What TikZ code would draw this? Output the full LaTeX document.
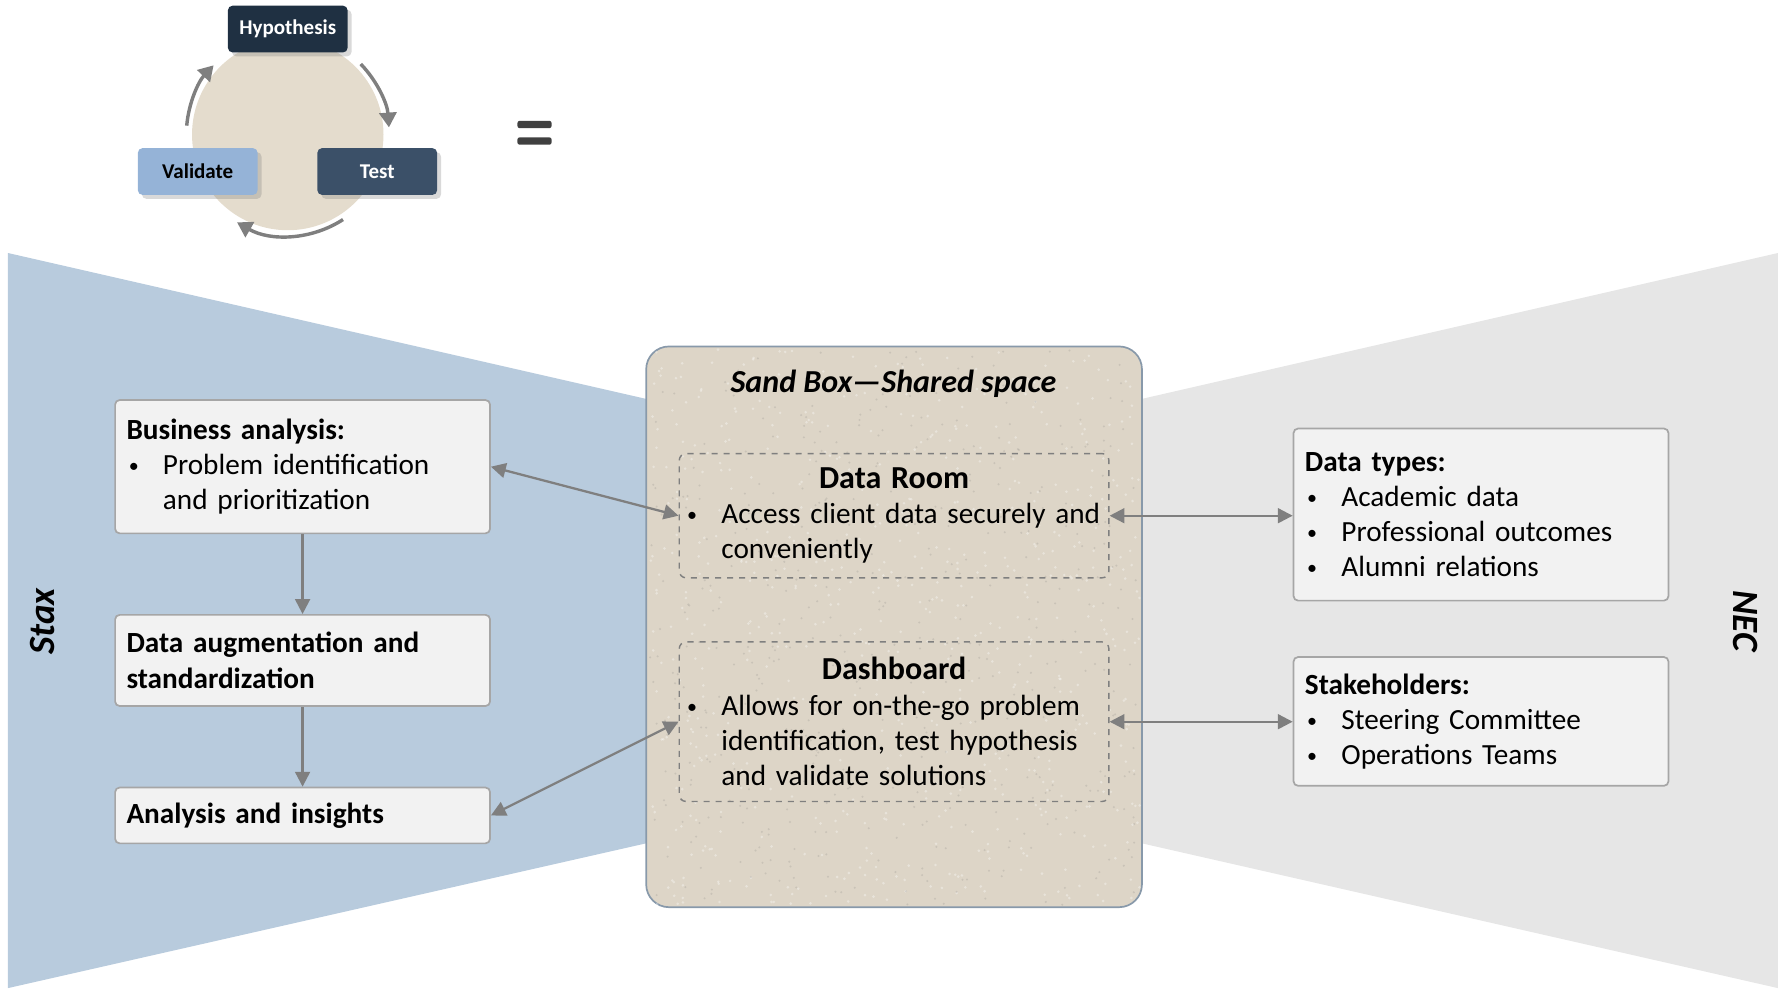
\documentclass[tikz,border=0pt]{standalone}
\usepackage{fontspec}
\setmainfont{Carlito}
\usepackage{tikz}
\usetikzlibrary{arrows.meta,positioning,shadows}
\definecolor{staxblue}{HTML}{B8CBDD}
\definecolor{necgray}{HTML}{E6E6E6}
\definecolor{sandfill}{HTML}{DDD5C7}
\definecolor{sandedge}{HTML}{8899AA}
\definecolor{boxfill}{HTML}{F2F2F2}
\definecolor{boxedge}{HTML}{A6A6A6}
\definecolor{linkgray}{HTML}{7F7F7F}
\definecolor{hypnavy}{HTML}{1F3042}
\definecolor{testblue}{HTML}{3B5068}
\definecolor{valblue}{HTML}{95B3D7}
\definecolor{cyclebeige}{HTML}{E4DCCD}
\definecolor{eqgray}{HTML}{404040}
\newcommand{\bitem}[1]{\par\noindent\hspace*{0.4mm}\makebox[6mm][l]{\raisebox{0.35mm}{\fontsize{10}{10}\selectfont\textbullet}}\parbox[t]{\dimexpr\hsize-6.4mm\relax}{\raggedright#1}}

\begin{document}
\begin{tikzpicture}[
  x=0.2mm, y=-0.2mm,
  infobox/.style={
    draw=boxedge,
    line width=0.3mm,
    rounded corners=0.8mm,
    fill=boxfill,
    text width=61.8mm,
    inner xsep=2mm,
    inner ysep=1mm,
    align=left,
    font=\fontsize{14.6}{17.6}\selectfont
  },
  roombox/.style={
    draw=linkgray,
    dashed,
    line width=0.25mm,
    rounded corners=1.2mm,
    text width=73.4mm,
    inner xsep=1mm,
    inner ysep=1mm,
    align=left,
    font=\fontsize{14.6}{17.6}\selectfont
  },
  sandbox/.style={
    draw=sandedge,
    line width=0.3mm,
    rounded corners=4mm,
    fill=sandfill
  },
  cycbox/.style={
    rounded corners=0.8mm,
    minimum width=21mm,
    minimum height=8.2mm,
    font=\fontsize{10.5}{12}\selectfont\bfseries,
    drop shadow={shadow xshift=0.7mm, shadow yshift=-0.7mm, opacity=0.3}
  },
  sidelabel/.style={font=\fontsize{18.5}{20}\selectfont\bfseries\itshape},
  link/.style={-{Triangle[length=2.6mm,width=2.6mm]},line width=0.4mm,draw=linkgray},
  dlink/.style={{Triangle[length=2.6mm,width=2.6mm]}-{Triangle[length=2.6mm,width=2.6mm]},line width=0.4mm,draw=linkgray},
  cycarrow/.style={-{Triangle[length=2.6mm,width=3mm]},line width=0.6mm,draw=linkgray}
]
\useasboundingbox (0,0) rectangle (1568,867);

\fill[staxblue] (7,222) -- (640,366.7) -- (640,723.4) -- (7,867) -- cycle;
\fill[necgray] (1560,222) -- (930,366.5) -- (930,723.6) -- (1560,867) -- cycle;

\node[circle, fill=cyclebeige, minimum size=33.6mm, inner sep=0pt] (cyc) at (252.5,118) {};
\node[cycbox, fill=hypnavy, text=white] (hyp) at (252.5,25.5) {Hypothesis};
\node[cycbox, fill=valblue, text=black] (val) at (173.5,150.5) {Validate};
\node[cycbox, fill=testblue, text=white] (test) at (331,150.5) {Test};
\draw[cycarrow] ([shift={(44:17.8mm)}]cyc.center) arc[start angle=44, end angle=4, radius=17.8mm];
\draw[cycarrow] ([shift={(-57:17.8mm)}]cyc.center) arc[start angle=-57, end angle=-120, radius=17.8mm];
\draw[cycarrow] ([shift={(175:17.8mm)}]cyc.center) arc[start angle=175, end angle=137, radius=17.8mm];

\fill[eqgray, rounded corners=0.4mm] (454,106) rectangle (484,112.5);
\fill[eqgray, rounded corners=0.4mm] (454,120.5) rectangle (484,127);

\node[sandbox, minimum width=87mm, minimum height=98.4mm] (sandbox) at (784.5,550) {};
\begin{scope}
  \clip[rounded corners=4mm] (sandbox.south west) rectangle (sandbox.north east);
  \pgfmathsetseed{42}
  \foreach \i in {1,...,700} {
    \pgfmathsetmacro{\px}{570+430*rnd}
    \pgfmathsetmacro{\py}{306+488*rnd}
    \fill[white, opacity=0.35] (\px,\py) circle (0.25mm);
  }
  \foreach \i in {1,...,500} {
    \pgfmathsetmacro{\px}{570+430*rnd}
    \pgfmathsetmacro{\py}{306+488*rnd}
    \fill[black!55, opacity=0.18] (\px,\py) circle (0.2mm);
  }
\end{scope}
\node[font=\fontsize{16}{19}\selectfont\bfseries\itshape] (sbtitle) at (784,337) {Sand Box---Shared space};
\node[roombox, minimum height=21.8mm] (dataroom) at (784.5,452.5) {{\centering\fontsize{16}{19}\selectfont\bfseries Data Room\par}\bitem{Access client data securely and\\conveniently}};
\node[roombox, minimum height=28mm, below=11mm of dataroom] (dashboard) {{\centering\fontsize{16}{19}\selectfont\bfseries Dashboard\par}\bitem{Allows for on-the-go problem\\identification, test hypothesis\\and validate solutions}};

\node[infobox, minimum height=23.4mm] (bizan) at (265.5,409.5) {\textbf{Business analysis:}\bitem{Problem identification\\and prioritization}};
\node[infobox, minimum height=16mm, below=14mm of bizan] (augment) {\bfseries Data augmentation and\\standardization};
\node[infobox, minimum height=9.8mm, below=14mm of augment] (insight) {\bfseries Analysis and insights};

\node[infobox, minimum height=30.2mm] (dtypes) at (1299.5,451.5) {\textbf{Data types:}\bitem{Academic data}\bitem{Professional outcomes}\bitem{Alumni relations}};
\node[infobox, minimum height=22.6mm, below=9.6mm of dtypes] (stake) {\textbf{Stakeholders:}\bitem{Steering Committee}\bitem{Operations Teams}};

\node[sidelabel, rotate=90] (stax) at (37,545) {Stax};
\node[sidelabel, rotate=-90] (nec) at (1532,545) {NEC};

\draw[link] (bizan) -- (augment);
\draw[link] (augment) -- (insight);
\draw[dlink] (bizan.east) -- (dataroom.west);
\draw[dlink] (insight.east) -- (dashboard.west);
\draw[dlink] (dataroom.east) -- (dataroom.east -| dtypes.west);
\draw[dlink] (dashboard.east) -- (dashboard.east -| stake.west);
\end{tikzpicture}
\end{document}
